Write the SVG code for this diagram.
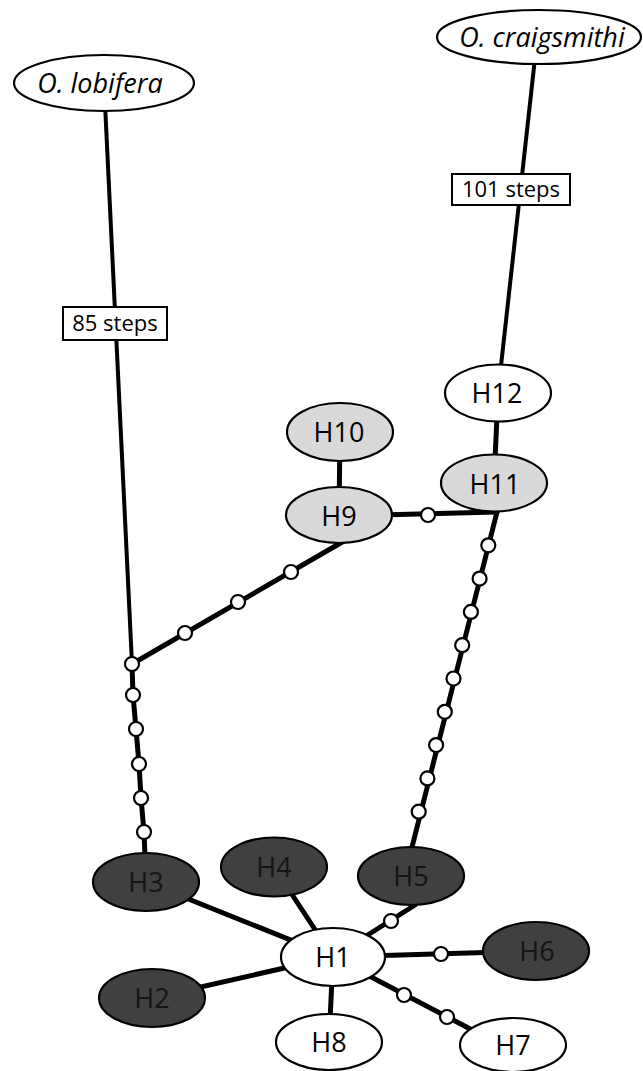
<svg xmlns="http://www.w3.org/2000/svg" width="643" height="1071" viewBox="0 0 643 1071">
<style>
.e{stroke:#000;stroke-width:2.2}
.w{fill:#fff}
.g{fill:#d9d9d9}
.d{fill:#404040}
.t{font-family:"Open Sans","Noto Sans",sans-serif;font-size:27px;fill:#000;text-anchor:middle}
.td{fill:#151515}
.sp{font-family:"Open Sans","Noto Sans",sans-serif;font-style:italic;font-size:27px;fill:#000;text-anchor:middle}
.bx{fill:#fff;stroke:#000;stroke-width:2}
.bt{font-family:"Open Sans","Noto Sans",sans-serif;font-size:22px;fill:#000;text-anchor:middle}
.c{fill:none;stroke:#000;stroke-width:5;stroke-linecap:round}
.cl{fill:none;stroke:#000;stroke-width:4}
.m{fill:#fff;stroke:#000;stroke-width:2.2}
</style>
<g id="connectors">
<line class="cl" x1="104" y1="83" x2="132" y2="664"/>
<line class="cl" x1="537" y1="40" x2="498" y2="393"/>
<line class="c" x1="498" y1="393" x2="494" y2="483"/>
<line class="c" x1="340" y1="432" x2="339" y2="515"/>
<polyline class="c" points="339,516 497,512"/>
<line class="c" x1="497" y1="512" x2="410" y2="855"/>
<line class="c" x1="132" y1="664" x2="344" y2="541"/>
<polyline class="c" points="132,664 133,695 136,729 139,764 141,798 144,832 146,880"/>
<line class="c" x1="146" y1="882" x2="333" y2="957"/>
<line class="c" x1="274" y1="867" x2="333" y2="957"/>
<line class="c" x1="333" y1="957" x2="415" y2="905"/>
<line class="c" x1="333" y1="957" x2="536" y2="951"/>
<line class="c" x1="333" y1="957" x2="478" y2="1033"/>
<line class="c" x1="152" y1="998" x2="333" y2="957"/>
<line class="c" x1="329" y1="1042" x2="333" y2="957"/>
</g>
<g id="box85"><rect class="bx" x="63" y="307" width="104" height="33"/><text class="bt" x="115" y="331">85 steps</text></g>
<g id="box101"><rect class="bx" x="452" y="174" width="118" height="31"/><text class="bt" x="511" y="197">101 steps</text></g>
<g id="medians">
<circle id="mv1" class="m" cx="132" cy="664" r="7"/>
<circle id="mv2" class="m" cx="133" cy="695" r="7"/>
<circle id="mv3" class="m" cx="136" cy="729" r="7"/>
<circle id="mv4" class="m" cx="139" cy="764" r="7"/>
<circle id="mv5" class="m" cx="141" cy="798" r="7"/>
<circle id="mv6" class="m" cx="144" cy="832" r="7"/>
<circle id="mv7" class="m" cx="185" cy="633" r="7"/>
<circle id="mv8" class="m" cx="238" cy="602" r="7"/>
<circle id="mv9" class="m" cx="291" cy="572" r="7"/>
<circle id="mv10" class="m" cx="428" cy="515" r="7"/>
<circle id="mv11" class="m" cx="488.3" cy="545.3" r="7"/>
<circle id="mv12" class="m" cx="479.6" cy="578.6" r="7"/>
<circle id="mv13" class="m" cx="470.9" cy="611.9" r="7"/>
<circle id="mv14" class="m" cx="462.2" cy="645.2" r="7"/>
<circle id="mv15" class="m" cx="453.5" cy="678.5" r="7"/>
<circle id="mv16" class="m" cx="444.8" cy="711.8" r="7"/>
<circle id="mv17" class="m" cx="436.1" cy="745.1" r="7"/>
<circle id="mv18" class="m" cx="427.4" cy="778.4" r="7"/>
<circle id="mv19" class="m" cx="418.7" cy="811.7" r="7"/>
<circle id="mv20" class="m" cx="391" cy="921" r="7"/>
<circle id="mv21" class="m" cx="441" cy="954" r="7"/>
<circle id="mv22" class="m" cx="404" cy="995" r="7"/>
<circle id="mv23" class="m" cx="447" cy="1017" r="7"/>
</g>
<g id="lobifera"><ellipse class="e w" cx="104" cy="83" rx="90" ry="28"/><text class="sp" x="100" y="93">O. lobifera</text></g>
<g id="craigsmithi"><ellipse class="e w" cx="539" cy="37" rx="102" ry="27"/><text class="sp" x="542" y="47">O. craigsmithi</text></g>
<g id="H12"><ellipse class="e w" cx="498" cy="393" rx="53" ry="28.5"/><text class="t" x="497" y="403">H12</text></g>
<g id="H10"><ellipse class="e g" cx="340" cy="432" rx="53" ry="29"/><text class="t" x="339" y="442">H10</text></g>
<g id="H11"><ellipse class="e g" cx="494" cy="483" rx="53" ry="28.5"/><text class="t" x="495" y="494">H11</text></g>
<g id="H9"><ellipse class="e g" cx="339" cy="515" rx="53" ry="28"/><text class="t" x="339" y="526">H9</text></g>
<g id="H3"><ellipse class="e d" cx="146" cy="882" rx="53" ry="29"/><text class="t td" x="146" y="892">H3</text></g>
<g id="H4"><ellipse class="e d" cx="274" cy="867" rx="53" ry="29.5"/><text class="t td" x="274" y="877">H4</text></g>
<g id="H5"><ellipse class="e d" cx="411" cy="876" rx="53" ry="29"/><text class="t td" x="411" y="886">H5</text></g>
<g id="H6"><ellipse class="e d" cx="536" cy="951" rx="53" ry="29"/><text class="t td" x="537" y="961">H6</text></g>
<g id="H2"><ellipse class="e d" cx="152" cy="998" rx="53" ry="29"/><text class="t td" x="152" y="1008">H2</text></g>
<g id="H1"><ellipse class="e w" cx="333" cy="957" rx="52" ry="29"/><text class="t" x="333" y="967">H1</text></g>
<g id="H8"><ellipse class="e w" cx="329" cy="1042" rx="53" ry="28"/><text class="t" x="329" y="1052">H8</text></g>
<g id="H7"><ellipse class="e w" cx="513" cy="1045" rx="53" ry="27"/><text class="t" x="513" y="1055">H7</text></g>
</svg>
